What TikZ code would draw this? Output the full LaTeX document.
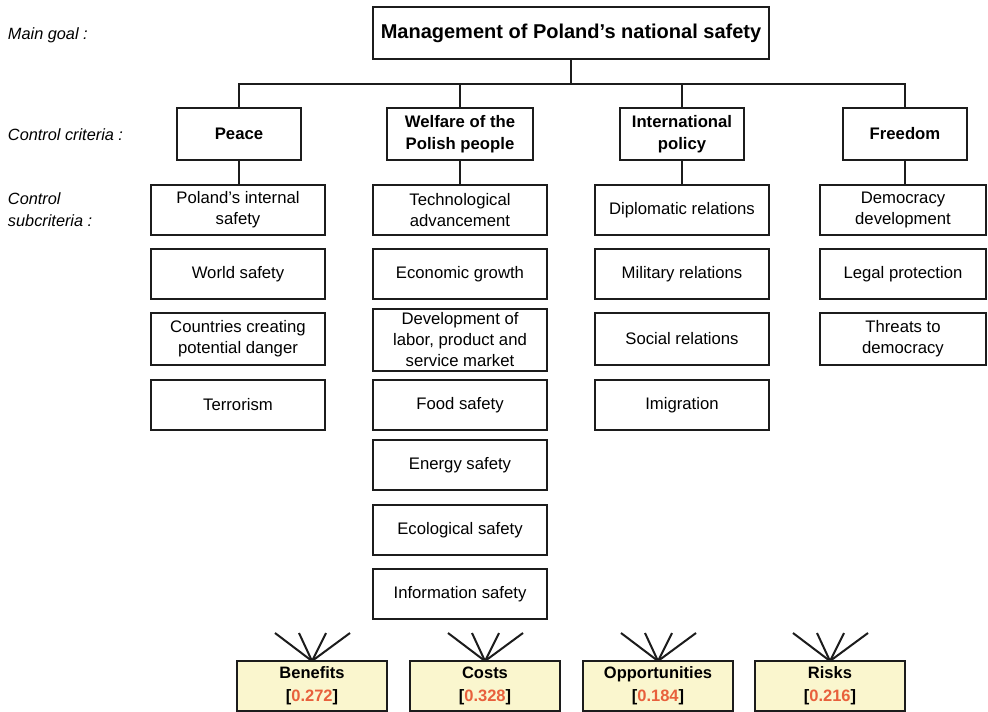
\documentclass[tikz,border=0pt]{standalone}
\usepackage{fontspec}
\setmainfont{Liberation Sans}
\usetikzlibrary{calc}
\definecolor{boxfill}{HTML}{FAF6CE}
\definecolor{weight}{HTML}{E8603C}
\definecolor{ink}{HTML}{1C1C1C}

% two-line merit label: name on the first line, weight in brackets below
\newcommand{\meritlabel}[2]{%
  \raisebox{-15.5pt}[0pt][0pt]{\begin{tabular}[b]{@{}c@{}}#1\\{}[\textcolor{weight}{#2}]\end{tabular}}}

\begin{document}
\begin{tikzpicture}[x=1pt,y=-1pt,
  every node/.style={inner sep=0pt, outer sep=0pt},
  frame/.style={draw=ink, line width=2pt, fill=white, align=center},
  goalbox/.style={frame, minimum width=396pt, minimum height=52pt,
    font=\fontsize{20}{24}\selectfont\bfseries},
  critbox/.style={frame, minimum height=52pt,
    font=\fontsize{16.7}{21.7}\selectfont\bfseries},
  subbox/.style={frame, minimum width=174pt, minimum height=50pt,
    font=\fontsize{16.7}{21}\selectfont},
  ratebox/.style={frame, fill=boxfill, minimum width=150pt, minimum height=50pt,
    font=\fontsize{16.5}{23}\selectfont\bfseries},
  sidelabel/.style={anchor=base west, align=left,
    font=\fontsize{16.3}{22}\selectfont\itshape},
  link/.style={draw=ink, line width=2pt},
]
\fill[white] (0,0) rectangle (988,712);
\useasboundingbox (0,0) rectangle (988,712);

% level labels
\node[sidelabel] (lgoal) at (8,39) {Main goal :};
\node[sidelabel] (lcrit) at (8,140) {Control criteria :};
\node[sidelabel] (lsub)  at (8,226) {Control\\subcriteria :};

% goal
\node[goalbox] (goal) at (571,33) {Management of Poland’s national safety};

% control criteria
\node[critbox, minimum width=124pt] (peace)   at (239,134) {Peace};
\node[critbox, minimum width=146pt] (welfare) at (460,134) {Welfare of the\\Polish people};
\node[critbox, minimum width=124pt] (intl)    at (682,134) {International\\policy};
\node[critbox, minimum width=124pt] (freedom) at (905,134) {Freedom};

% subcriteria: Peace
\node[subbox] (p1) at (238,210) {Poland’s internal\\safety};
\node[subbox] (p2) at (238,274) {World safety};
\node[subbox, minimum height=52pt] (p3) at (238,339) {Countries creating\\potential danger};
\node[subbox] (p4) at (238,405) {Terrorism};

% subcriteria: Welfare
\node[subbox] (w1) at (460,210) {Technological\\advancement};
\node[subbox] (w2) at (460,274) {Economic growth};
\node[subbox, minimum height=62pt] (w3) at (460,340) {Development of\\labor, product and\\service market};
\node[subbox] (w4) at (460,405) {Food safety};
\node[subbox] (w5) at (460,465) {Energy safety};
\node[subbox] (w6) at (460,530) {Ecological safety};
\node[subbox] (w7) at (460,594) {Information safety};

% subcriteria: International policy
\node[subbox] (i1) at (682,210) {Diplomatic relations};
\node[subbox] (i2) at (682,274) {Military relations};
\node[subbox, minimum height=52pt] (i3) at (682,339) {Social relations};
\node[subbox] (i4) at (682,405) {Imigration};

% subcriteria: Freedom
\node[subbox, minimum width=166pt] (f1) at (903,210) {Democracy\\development};
\node[subbox, minimum width=166pt] (f2) at (903,274) {Legal protection};
\node[subbox, minimum width=166pt, minimum height=52pt] (f3) at (903,339) {Threats to\\democracy};

% BOCR merits
\node[ratebox] (ben)  at (312,686) {\meritlabel{Benefits}{0.272}};
\node[ratebox] (cost) at (485,686) {\meritlabel{Costs}{0.328}};
\node[ratebox] (opp)  at (658,686) {\meritlabel{Opportunities}{0.184}};
\node[ratebox] (risk) at (830,686) {\meritlabel{Risks}{0.216}};

% hierarchy connectors
\coordinate (bus) at (0,84);
\draw[link] (goal.south) -- (goal.south |- bus);
\draw[link] (peace.north) |- (freedom.north |- bus) -- (freedom.north);
\draw[link] (welfare.north) -- (welfare.north |- bus);
\draw[link] (intl.north) -- (intl.north |- bus);

\draw[link] (peace.south)   -- (peace.south |- p1.north);
\draw[link] (welfare.south) -- (welfare.south |- w1.north);
\draw[link] (intl.south)    -- (intl.south |- i1.north);
\draw[link] (freedom.south) -- (freedom.south |- f1.north);

% fans above each merit box
\foreach \r in {ben,cost,opp,risk}{
  \foreach \d in {-37,-13,14,38}{
    \coordinate (\r-fan\d) at ($(\r.north)+(\d,-28)$);
    \draw[link] (\r-fan\d) -- (\r.north);
  }
}
\end{tikzpicture}
\end{document}
